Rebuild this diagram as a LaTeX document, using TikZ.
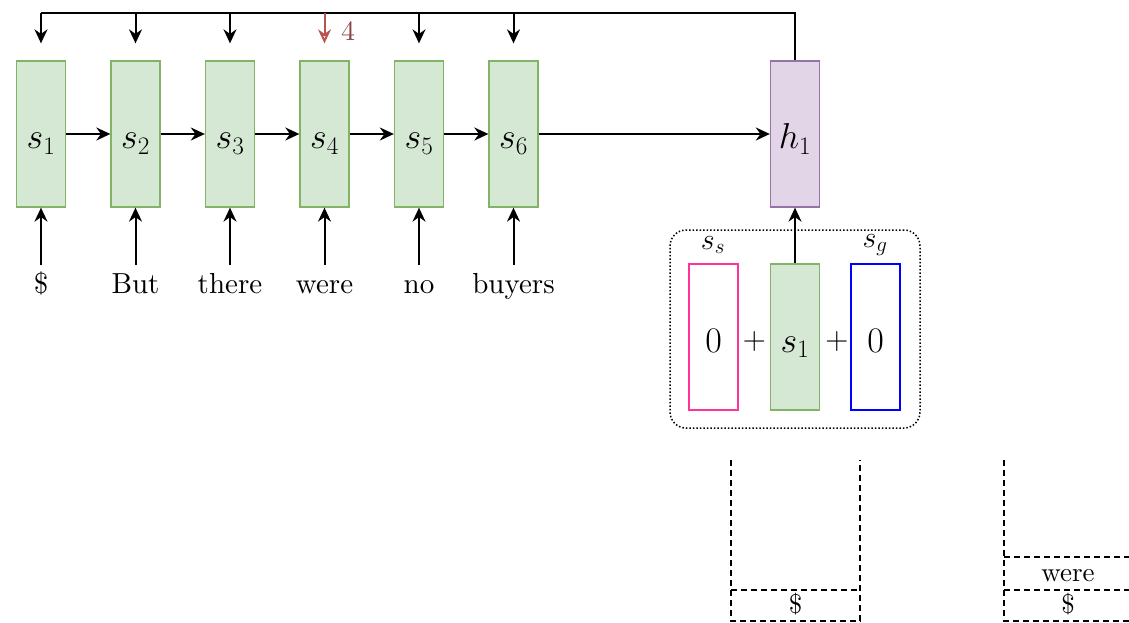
\RequirePackage{fix-cm}
\documentclass[tikz,border=0pt]{standalone}
\usepackage{fontspec}
\setmainfont{lmroman10-regular.otf}
\usetikzlibrary{arrows.meta}
\definecolor{gfill}{HTML}{D5E8D4}
\definecolor{gline}{HTML}{82B366}
\definecolor{pfill}{HTML}{E1D5E7}
\definecolor{pline}{HTML}{9673A6}
\definecolor{pinkline}{HTML}{FF3399}
\definecolor{redarrow}{HTML}{B85450}
\definecolor{steplabel}{RGB}{140,70,70}
\begin{document}
\begin{tikzpicture}[x=1pt,y=-1pt,
  cell/.style={draw, line width=1.3pt, minimum width=49pt, minimum height=146pt, inner sep=0pt,
    text height=30pt, text depth=0pt, font=\fontsize{36}{42}\selectfont},
  gcell/.style={cell, fill=gfill, draw=gline},
  pcell/.style={cell, fill=pfill, draw=pline},
  word/.style={anchor=north, inner sep=2pt, text height=26pt, text depth=7pt,
    font=\fontsize{29}{34}\selectfont},
  stackword/.style={anchor=center, inner sep=2pt, text height=20pt, text depth=6pt,
    font=\fontsize{27}{32}\selectfont},
  arr/.style={line width=2pt, -{Stealth[length=14pt,width=13pt]}},
  plain/.style={line width=2pt},
  stackline/.style={line width=1.8pt, dash pattern=on 6pt off 4pt},
  small/.style={font=\fontsize{30}{34}\selectfont, inner sep=0pt}]
\useasboundingbox (0,0) rectangle (1129,623);

% encoder states
\node[gcell] (s1) at (41,134) {$s_1$};
\node[gcell] (s2) at (135.5,134) {$s_2$};
\node[gcell] (s3) at (230,134) {$s_3$};
\node[gcell] (s4) at (324.5,134) {$s_4$};
\node[gcell] (s5) at (419,134) {$s_5$};
\node[gcell] (s6) at (513.5,134) {$s_6$};
\node[pcell] (h1) at (795,134) {$h_1$};

% input words
\node[word] (w1) at (41,265) {\$};
\node[word] (w2) at (135.5,265) {But};
\node[word] (w3) at (230,265) {there};
\node[word] (w4) at (324.5,265) {were};
\node[word] (w5) at (419,265) {no};
\node[word] (w6) at (513.5,265) {buyers};

\foreach \i in {1,...,6}{\draw[arr] (w\i.north) -- (s\i.south);}
\draw[arr] (s1.east) -- (s2.west);
\draw[arr] (s2.east) -- (s3.west);
\draw[arr] (s3.east) -- (s4.west);
\draw[arr] (s4.east) -- (s5.west);
\draw[arr] (s5.east) -- (s6.west);
\draw[arr] (s6.east) -- (h1.west);

% feedback bus from h1 back to every state
\coordinate (bus) at (0,13);
\draw[plain] (h1.north) -- (h1.north |- bus) -- (s1.north |- bus);
\foreach \i in {1,2,3,5,6}{\draw[arr, shorten >=17pt] (s\i.north |- bus) -- (s\i.north);}
\draw[line width=2pt, draw=redarrow, -{Stealth[open, fill=white, length=14pt, width=13pt]}, shorten >=17pt]
  (s4.north |- bus) -- (s4.north);
\node[text=steplabel, font=\fontsize{28}{32}\selectfont, inner sep=0pt] (step4) at (348,31) {4};

% composition of the decoder input
\node[draw, dotted, line width=1.5pt, rounded corners=16pt, minimum width=250pt, minimum height=198pt] (grp) at (795,329) {};
\node[cell, draw=pinkline, fill=white] (ss) at (713.5,337) {$0$};
\node[gcell] (sb) at (795,337) {$s_1$};
\node[cell, draw=blue, fill=white] (sg) at (875.5,337) {$0$};
\node[font=\fontsize{32}{36}\selectfont, inner sep=0pt] (p1) at (754.5,341) {$+$};
\node[font=\fontsize{32}{36}\selectfont, inner sep=0pt] (p2) at (837,341) {$+$};
\node[small] (lss) at (713,245) {$s_s$};
\node[small] (lsg) at (875,245) {$s_g$};
\draw[arr] (sb.north) -- (h1.south);

% stacks
\draw[stackline] (731,460) -- (731,621) -- (860,621) -- (860,460);
\draw[stackline] (731,590) -- (860,590);
\node[stackword] (st1) at (795.5,606) {\$};
\draw[stackline] (1004,460) -- (1004,621) -- (1140,621);
\draw[stackline] (1004,590) -- (1140,590);
\draw[stackline] (1004,557) -- (1140,557);
\node[stackword] (st2) at (1068,574) {were};
\node[stackword] (st3) at (1068,606) {\$};
\end{tikzpicture}
\end{document}
